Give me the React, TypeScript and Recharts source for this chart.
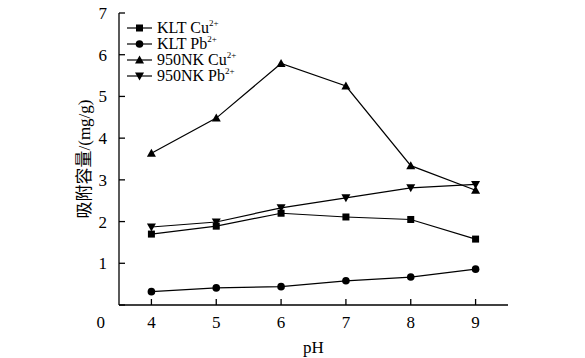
import { LineChart, Line, XAxis, YAxis } from 'recharts';

// pH values on the x axis
const phValues = [4, 5, 6, 7, 8, 9];

// adsorption capacity (mg/g)
const kltCu = [1.7, 1.89, 2.2, 2.11, 2.05, 1.58];
const kltPb = [0.32, 0.41, 0.44, 0.58, 0.67, 0.86];
const nkCu = [3.64, 4.48, 5.79, 5.25, 3.34, 2.75];
const nkPb = [1.87, 1.99, 2.33, 2.57, 2.81, 2.89];

const yTicks = [0, 1, 2, 3, 4, 5, 6, 7];

const seriesNames = [
  { key: 'kltCu', label: 'KLT Cu', marker: 'square' },
  { key: 'kltPb', label: 'KLT Pb', marker: 'circle' },
  { key: 'nkCu', label: '950NK Cu', marker: 'triangle' },
  { key: 'nkPb', label: '950NK Pb', marker: 'down' },
];

const data = phValues.map((ph, i) => ({
  ph,
  kltCu: kltCu[i],
  kltPb: kltPb[i],
  nkCu: nkCu[i],
  nkPb: nkPb[i],
}));

const FONT = "Liberation Serif, Noto Sans CJK SC, serif";

function Marker({ type, cx, cy }: { type: string; cx: number; cy: number }) {
  if (type === 'square') {
    return <rect x={cx - 3.5} y={cy - 3.5} width={7} height={7} fill="#000" />;
  }
  if (type === 'circle') {
    return <circle cx={cx} cy={cy} r={3.8} fill="#000" />;
  }
  if (type === 'triangle') {
    return <polygon points={`${cx},${cy - 4.5} ${cx - 4.5},${cy + 3.5} ${cx + 4.5},${cy + 3.5}`} fill="#000" />;
  }
  return <polygon points={`${cx},${cy + 4.5} ${cx - 4.5},${cy - 3.5} ${cx + 4.5},${cy - 3.5}`} fill="#000" />;
}

function makeDot(type: string) {
  return (props: any) => {
    const { cx, cy, index } = props;
    return <Marker key={`${type}-${index}`} type={type} cx={cx} cy={cy} />;
  };
}

// legend drawn as an overlay in the top-left corner of the plot
function LegendBox() {
  return (
    <div
      style={{
        position: 'absolute',
        left: 127,
        top: 20,
        fontFamily: FONT,
        fontSize: 16,
        lineHeight: '16px',
        color: '#000',
      }}
    >
      {seriesNames.map((s) => (
        <div key={s.key} style={{ display: 'flex', alignItems: 'center', height: 16, whiteSpace: 'nowrap' }}>
          <svg width={26} height={12} style={{ marginRight: 4 }}>
            <line x1={0} y1={6} x2={25} y2={6} stroke="#000" strokeWidth={1.2} />
            <Marker type={s.marker} cx={12.5} cy={6} />
          </svg>
          <span>{s.label}</span>
          <span style={{ fontSize: 9, lineHeight: '9px', position: 'relative', top: -5 }}>2+</span>
        </div>
      ))}
    </div>
  );
}

function YTick(props: any) {
  const { x, y, payload } = props;
  const isZero = payload.value === 0;
  return (
    <text
      x={isZero ? x - 2 : x}
      y={isZero ? y + 17 : y}
      textAnchor="end"
      dy="0.35em"
      fontFamily={FONT}
      fontSize={17}
      fill="#000"
    >
      {payload.value}
    </text>
  );
}

export default function App() {
  return (
    <div style={{ position: 'absolute', left: 0, top: 0, width: 585, height: 358, background: '#fff' }}>
      <LineChart width={585} height={358} data={data} margin={{ top: 13, right: 77, bottom: 0, left: 59 }}>
        <XAxis
          dataKey="ph"
          type="number"
          domain={[3.5, 9.5]}
          ticks={phValues}
          tickSize={-6}
          tickMargin={17}
          height={53}
          stroke="#000"
          strokeWidth={1.3}
          tick={{ fontFamily: FONT, fontSize: 17, fill: '#000' }}
          label={{ value: 'pH', position: 'insideBottom', offset: 5, fontFamily: FONT, fontSize: 17, fill: '#000' }}
        />
        <XAxis xAxisId="top" orientation="top" dataKey="ph" type="number" domain={[3.5, 9.5]} tick={false} tickLine={false} height={0} stroke="#000" strokeWidth={1.3} />
        <YAxis
          domain={[0, 7]}
          ticks={yTicks}
          width={60}
          tickSize={-6}
          tickMargin={18}
          stroke="#000"
          strokeWidth={1.3}
          tick={<YTick />}
          label={{
            value: '吸附容量/(mg/g)',
            angle: -90,
            position: 'insideLeft',
            offset: 25,
            fontFamily: FONT,
            fontSize: 17,
            fill: '#000',
            style: { textAnchor: 'middle' },
          }}
        />
        <YAxis yAxisId="right" orientation="right" domain={[0, 7]} tick={false} tickLine={false} width={0} stroke="#000" strokeWidth={1.3} />
        <Line dataKey="kltCu" stroke="#000" strokeWidth={1.2} dot={makeDot('square')} isAnimationActive={false} />
        <Line dataKey="kltPb" stroke="#000" strokeWidth={1.2} dot={makeDot('circle')} isAnimationActive={false} />
        <Line dataKey="nkCu" stroke="#000" strokeWidth={1.2} dot={makeDot('triangle')} isAnimationActive={false} />
        <Line dataKey="nkPb" stroke="#000" strokeWidth={1.2} dot={makeDot('down')} isAnimationActive={false} />
      </LineChart>
      <LegendBox />
    </div>
  );
}
